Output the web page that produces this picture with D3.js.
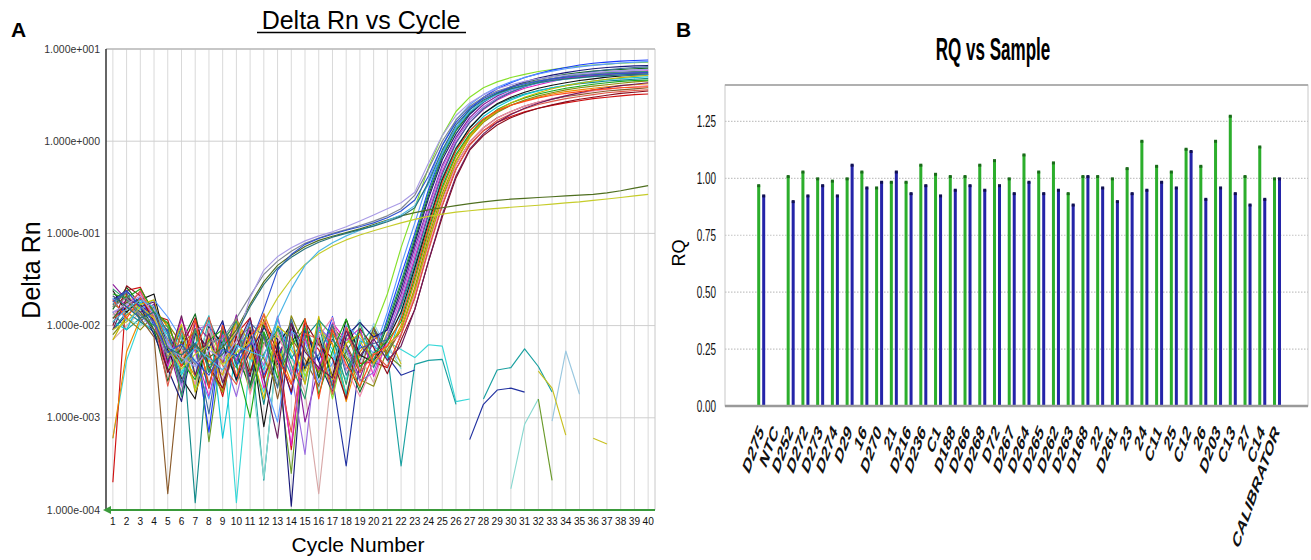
<!DOCTYPE html>
<html><head><meta charset="utf-8">
<script src="https://cdn.jsdelivr.net/npm/d3@7"></script>
<style>body{margin:0;background:#fff}svg{display:block;font-family:"Liberation Sans",Arial,sans-serif}</style>
</head><body>
<svg id="c" width="1311" height="560"></svg>
<script>
// ---------------- Panel A data ----------------
const cycles = [1,2,3,4,5,6,7,8,9,10,11,12,13,14,15,16,17,18,19,20,21,22,23,24,25,26,27,28,29,30,31,32,33,34,35,36,37,38,39,40];
const yTickValues = [10, 1, 0.1, 0.01, 0.001, 0.0001];
const yTickLabels = ["1.000e+001","1.000e+000","1.000e-001","1.000e-002","1.000e-003","1.000e-004"];

// amplification curves: baseline (cycles 1-19) and rise (cycles 20-40)
const ampColors = ["#86e02a","#1a3cff","#d01010","#8b1a9a","#138a8a","#0f6b1f","#f08a00","#e020c0","#10c8d8","#8a5a2a","#111111","#8a8a10","#1a1a7a","#f08cb0","#5a9aff","#8a0a1a","#9a6ae0","#1aa81a","#c8b800","#3a6a9a","#e05a4a","#2a9a6a","#6a1a5a","#ff4a1a"];
const ampBaseline = [
[.018,.022,.015,.012,.0032,.0078,.0021,.0095,.0041,.0062,.0019,.0085,.0034,.0112,.0028,.0069,.0016,.0074,.0045],
[.012,.016,.02,.01,.0088,.0024,.0065,.0007,.0105,.0037,.0072,.0029,.0058,.0018,.0094,.0041,.0125,.0033,.0062],
[.0002,.024,.026,.013,.0115,.0036,.0092,.0052,.0017,.0081,.0121,.0026,.0068,.00045,.0079,.0055,.0022,.0098,.0039],
[.028,.019,.014,.017,.0062,.0018,.0108,.0071,.0039,.0131,.0023,.0076,.0047,.0092,.0009,.0035,.0088,.0061,.0027],
[.009,.014,.011,.0085,.0042,.0097,.00012,.0059,.0082,.0025,.0066,.0014,.0098,.0044,.0074,.0111,.0021,.0053,.0086],
[.015,.026,.017,.009,.0025,.0066,.0134,.0031,.0087,.0049,.0022,.0102,.0038,.0064,.0119,.0027,.0071,.0043,.0019],
[.0006,.0052,.012,.016,.0095,.0051,.0028,.0074,.0019,.0112,.0043,.0135,.0058,.0024,.0037,.0086,.0064,.0015,.0052],
[.021,.017,.023,.011,.0036,.0118,.0052,.0017,.0079,.0042,.0096,.0021,.0046,.0005,.0072,.0032,.0107,.0069,.0094],
[.011,.009,.018,.014,.0078,.0029,.0061,.0128,.0006,.0058,.0084,.0033,.0116,.0047,.0024,.0091,.0055,.0018,.0068],
[.016,.021,.012,.0075,.00015,.0048,.0093,.0023,.0067,.0109,.0032,.0081,.0016,.0073,.0043,.0022,.0099,.0063,.0031],
[.024,.014,.019,.022,.0054,.0027,.0016,.0098,.0063,.0026,.0089,.0008,.0061,.0104,.0035,.0076,.0028,.0117,.0048],
[.008,.012,.009,.013,.0105,.0063,.0087,.0035,.0019,.0071,.0096,.0044,.0022,.0128,.0057,.0031,.0083,.0046,.0026],
[.019,.024,.016,.008,.0034,.0015,.0082,.0057,.0113,.0027,.0052,.0094,.0071,.00011,.0088,.0041,.0019,.0077,.0108],
[.013,.018,.022,.015,.0082,.0053,.0023,.0094,.0029,.0106,.0018,.0062,.0085,.0033,.0025,.0076,.0122,.0034,.0017],
[.02,.011,.015,.019,.0124,.0072,.0038,.0016,.0066,.0054,.0113,.0026,.0009,.0087,.0067,.0024,.0039,.0101,.0073],
[.01,.027,.021,.011,.0031,.0058,.0121,.0036,.0021,.0077,.0029,.0116,.0052,.0019,.0109,.0062,.0044,.0016,.0093],
[.014,.016,.013,.009,.0067,.0022,.0089,.0103,.0048,.0017,.0071,.0037,.0127,.0031,.0004,.0096,.0068,.0057,.0025],
[.022,.02,.025,.014,.0107,.0041,.0026,.0069,.0091,.0038,.001,.0085,.0027,.0061,.0094,.0018,.0053,.0118,.0036],
[.007,.013,.017,.019,.0045,.0103,.0019,.0042,.0029,.0114,.0063,.0016,.0099,.0074,.0023,.0126,.0026,.0064,.0082],
[.017,.023,.011,.016,.0083,.0024,.0061,.0011,.0097,.0039,.0107,.0076,.0021,.0118,.0036,.0048,.0104,.0029,.0057],
[.012,.015,.024,.012,.0022,.0089,.0053,.0124,.0037,.0023,.0064,.0132,.0034,.0007,.0082,.0071,.0018,.0096,.0031],
[.025,.019,.013,.01,.0099,.0017,.0091,.0032,.0067,.0112,.0021,.0049,.0093,.0038,.0016,.0115,.0078,.0023,.0105],
[.009,.02,.016,.018,.0039,.0128,.0029,.0083,.0024,.0059,.0121,.0027,.0006,.0106,.0052,.0035,.0027,.0088,.0047],
[.019,.012,.02,.013,.0071,.0036,.0116,.0021,.0101,.0028,.0078,.0109,.0044,.0023,.0119,.0016,.0091,.0038,.0022]
];
const ampRise = [
[.009,.022,.07,.19,.52,1.15,2.1,3.0,3.8,4.4,4.9,5.3,5.7,6.0,6.3,6.5,6.7,6.85,7.0,7.1,7.2],
[.004,.012,.035,.1,.3,.75,1.4,2.2,3.0,3.7,4.3,4.9,5.4,5.9,6.3,6.7,7.0,7.2,7.4,7.5,7.6],
[.004,.0035,.008,.02,.07,.2,.5,.92,1.3,1.6,1.85,2.08,2.28,2.45,2.6,2.75,2.9,3.0,3.1,3.2,3.25],
[.007,.009,.022,.07,.2,.55,1.1,1.8,2.5,3.1,3.6,4.0,4.3,4.6,4.85,5.0,5.15,5.3,5.4,5.45,5.5],
[.0035,.008,.016,.045,.14,.4,.85,1.4,2.0,2.5,2.9,3.25,3.55,3.8,4.0,4.2,4.35,4.5,4.6,4.7,4.8],
[.004,.01,.028,.085,.26,.68,1.3,2.0,2.7,3.3,3.8,4.3,4.7,5.0,5.3,5.55,5.75,5.9,6.0,6.1,6.2],
[.008,.005,.01,.03,.1,.3,.68,1.15,1.65,2.1,2.45,2.75,3.0,3.25,3.45,3.6,3.75,3.9,4.0,4.1,4.2],
[.0028,.007,.018,.055,.17,.47,.98,1.6,2.2,2.8,3.3,3.75,4.1,4.45,4.75,5.0,5.2,5.4,5.55,5.7,5.8],
[.006,.0045,.013,.038,.12,.35,.78,1.3,1.85,2.35,2.8,3.2,3.5,3.8,4.05,4.3,4.5,4.65,4.8,4.9,5.0],
[.0095,.005,.009,.024,.08,.24,.56,.98,1.4,1.8,2.1,2.4,2.65,2.85,3.05,3.2,3.35,3.5,3.6,3.7,3.8],
[.004,.007,.014,.042,.13,.38,.82,1.4,2.0,2.55,3.0,3.4,3.75,4.05,4.3,4.55,4.75,4.95,5.1,5.2,5.3],
[.0022,.0055,.009,.026,.09,.27,.62,1.1,1.6,2.05,2.45,2.8,3.1,3.35,3.6,3.8,3.95,4.1,4.25,4.4,4.5],
[.0075,.009,.025,.078,.24,.63,1.2,1.95,2.65,3.3,3.9,4.4,4.85,5.2,5.55,5.85,6.1,6.3,6.45,6.55,6.6],
[.004,.0062,.008,.022,.072,.22,.55,.98,1.4,1.78,2.1,2.4,2.65,2.9,3.1,3.3,3.5,3.65,3.8,3.9,4.0],
[.005,.014,.045,.13,.38,.9,1.7,2.5,3.2,3.85,4.4,4.9,5.35,5.75,6.1,6.4,6.65,6.85,7.05,7.2,7.3],
[.0058,.003,.007,.015,.05,.15,.4,.8,1.15,1.5,1.8,2.05,2.28,2.48,2.67,2.85,3.0,3.15,3.3,3.4,3.5],
[.0031,.008,.02,.062,.19,.52,1.05,1.7,2.35,2.95,3.45,3.9,4.3,4.65,4.95,5.2,5.45,5.65,5.8,5.9,6.0],
[.005,.0068,.011,.033,.11,.32,.72,1.2,1.7,2.2,2.6,2.95,3.25,3.5,3.75,3.95,4.15,4.3,4.45,4.55,4.6],
[.0039,.006,.009,.024,.08,.25,.6,1.1,1.65,2.15,2.6,3.0,3.35,3.7,4.0,4.25,4.5,4.7,4.9,5.05,5.2],
[.0064,.007,.017,.05,.16,.44,.95,1.6,2.25,2.85,3.4,3.9,4.35,4.75,5.1,5.4,5.7,5.95,6.15,6.3,6.4],
[.005,.0036,.008,.02,.065,.2,.5,.9,1.3,1.68,1.98,2.25,2.5,2.7,2.9,3.05,3.2,3.35,3.45,3.55,3.6],
[.0042,.011,.03,.092,.28,.7,1.35,2.05,2.7,3.25,3.7,4.1,4.45,4.75,5.0,5.2,5.35,5.5,5.6,5.65,5.7],
[.0072,.0042,.006,.015,.05,.16,.42,.82,1.2,1.6,1.95,2.28,2.58,2.86,3.1,3.35,3.6,3.8,4.0,4.15,4.3],
[.0048,.006,.012,.036,.12,.36,.8,1.3,1.75,2.15,2.45,2.7,2.95,3.15,3.3,3.45,3.6,3.7,3.8,3.85,3.9]
];

// curves rising early (cycles 1-40)
const earlyColors = ["#4f6f1f","#c6cc2a","#7f8592","#a99be6","#3050d0","#4bb6e6","#27707a"];
const earlyValues = [
[.012,.018,.014,.009,.0052,.0041,.0063,.0045,.0058,.009,.017,.03,.045,.058,.072,.084,.093,.102,.112,.125,.14,.155,.168,.18,.19,.2,.21,.22,.228,.235,.24,.245,.25,.255,.26,.265,.275,.29,.31,.33],
[.009,.011,.016,.012,.0058,.0034,.0049,.0062,.0038,.0051,.0067,.011,.02,.032,.046,.06,.073,.085,.096,.107,.118,.13,.142,.153,.162,.17,.176,.182,.187,.192,.197,.202,.208,.214,.22,.228,.236,.245,.255,.265],
[.016,.02,.013,.011,.0046,.0057,.0038,.0066,.0072,.012,.021,.036,.05,.064,.078,.089,.1,.11,.122,.136,.155,.185,.26,.5,1.0,1.7,2.4,3.0,3.5,3.9,4.25,4.55,4.8,5.0,5.15,5.3,5.4,5.5,5.55,5.6],
[.014,.017,.021,.013,.0062,.0045,.0036,.0054,.0043,.0068,.02,.04,.056,.07,.083,.094,.104,.118,.136,.158,.185,.215,.28,.58,1.15,1.9,2.6,3.2,3.7,4.1,4.45,4.75,5.0,5.2,5.4,5.55,5.7,5.8,5.9,6.0],
[.018,.024,.016,.011,.0051,.0063,.0041,.0029,.0055,.0047,.0062,.015,.04,.059,.076,.088,.098,.108,.118,.13,.148,.175,.23,.42,.9,1.6,2.3,2.9,3.4,3.85,4.2,4.5,4.75,4.95,5.1,5.25,5.35,5.45,5.5,5.55],
[.011,.015,.019,.016,.0068,.0039,.0057,.0044,.0033,.0061,.0052,.0046,.012,.025,.045,.064,.079,.094,.108,.122,.138,.158,.2,.34,.75,1.4,2.1,2.7,3.2,3.6,3.95,4.25,4.5,4.7,4.85,5.0,5.1,5.2,5.25,5.3],
[.021,.016,.012,.014,.0057,.0048,.0064,.0037,.0049,.0082,.016,.028,.042,.055,.068,.08,.091,.1,.11,.12,.134,.152,.19,.36,.8,1.5,2.2,2.8,3.3,3.7,4.0,4.3,4.55,4.75,4.9,5.05,5.15,5.25,5.3,5.35]
];

// non-amplifying (noise only) curves, null = not plotted
const noiseColors = ["#38d8d8","#1aa0a0","#2030a0","#88d8d0","#6a9a2a","#9ac8e0","#c8c020","#d8a8a8"];
const noiseValues = [
[.0006,.0042,.011,.009,.0082,.0031,.0065,.0022,.0085,.00012,.0046,.0019,.0092,.0061,.0024,.0108,.0047,.0026,.0089,.0038,.0067,.0055,.0045,.0062,.006,.0015,.0016,null,null,null,null,null,null,null,null,null,null,null,null,null],
[.014,.009,.012,.016,.0041,.0092,.0028,.0117,.0053,.0035,.0076,.00021,.0064,.0029,.0101,.0043,.0083,.0017,.0062,.0097,.005,.0003,.0038,.0042,.0043,.0014,null,.0016,.0033,.0035,.0056,.0036,.0019,null,null,null,null,null,null,null],
[.009,.013,.017,.012,.0089,.0036,.0063,.0021,.0102,.0047,.0028,.0085,.0041,.0113,.0033,.0068,.0027,.0003,.0042,.0091,.0046,.0029,.0033,null,null,null,.00058,.0014,.002,.0021,.0019,null,null,null,null,null,null,null,null,null],
[.008,.012,.01,.014,.0035,.0087,.0041,.0099,.0023,.0074,.0042,.00022,.0058,.0105,.0026,.0081,.0035,.0064,.0116,.0039,.0063,.0034,null,null,null,null,null,null,null,.00017,.00085,.0016,null,null,null,null,null,null,null,null],
[.017,.014,.02,.011,.0058,.0024,.0092,.00055,.0063,.0098,.0021,.0066,.0034,.00025,.0075,.0028,.0092,.0053,.0021,.0084,.0048,.0036,null,null,null,null,null,null,null,null,null,.0016,.00021,null,null,null,null,null,null,null],
[.013,.018,.015,.01,.0036,.0078,.0019,.0091,.0054,.0027,.0113,.0047,.0025,.0082,.0058,.0021,.0095,.0049,.0034,.0106,.0055,.0041,null,null,null,null,null,null,null,null,null,null,.00092,.0053,.0018,null,null,null,null,null],
[.011,.016,.013,.015,.0098,.0047,.0023,.0082,.0037,.0121,.0049,.0026,.0078,.0054,.0032,.0097,.0063,.0018,.0069,.0036,.0085,.0038,null,null,null,null,null,null,null,null,null,.0032,.0021,.00065,null,.0006,.00052,null,null,null],
[.007,.01,.014,.012,.0027,.0069,.0101,.0043,.0026,.0089,.0062,.0031,.0073,.0045,.0019,.00015,.0036,.0082,.0047,.0024,.0074,null,null,null,null,null,null,null,null,null,null,null,null,null,null,null,null,null,null,null]
];

// ---------------- Panel B data ----------------
const samples = ["D275","NTC","D252","D272","D273","D274","D29","16","D270","21","D216","D236","C1","D188","D266","D268","D72","D267","D264","D265","D262","D263","D168","22","D261","23","24","C11","25","C12","26","D203","C13","27","C14","CALIBRATOR"];
const rqGreen = [.97,null,1.01,1.03,1.0,.99,1.0,1.03,.96,.985,.985,1.06,1.02,1.01,1.01,1.06,1.08,1.0,1.105,1.03,1.07,.935,1.01,1.01,1.0,1.045,1.165,1.055,1.03,1.13,1.055,1.165,1.275,1.01,1.14,1.0];
const rqBlue  = [.925,null,.9,.925,.97,.925,1.06,.96,.985,1.03,.935,.97,.925,.95,.97,.95,.97,.935,.985,.935,.95,.885,1.01,.96,.9,.935,.95,.985,.96,1.12,.91,.96,.935,.885,.91,1.0];
const rqTicks = [0,0.25,0.5,0.75,1.0,1.25];

// ---------------- drawing ----------------
const svg = d3.select("#c");

// ===== Panel A =====
const A = {l:106, r:655, t:49, b:510};
const x = d3.scaleLinear().domain([0.5, 40.5]).range([A.l, A.r]);
const y = d3.scaleLog().domain([1e-4, 10]).range([A.b, A.t]);

svg.append("text").attr("x",11).attr("y",37).attr("font-size",21).attr("font-weight","bold").text("A");
svg.append("text").attr("x",361).attr("y",29).attr("text-anchor","middle").attr("font-size",25).text("Delta Rn vs Cycle");
svg.append("line").attr("x1",257).attr("x2",466).attr("y1",32.5).attr("y2",32.5).attr("stroke","#000").attr("stroke-width",1.5);

const gA = svg.append("g");
gA.selectAll("line.vg").data(cycles).join("line").attr("class","vg")
  .attr("x1",d=>x(d)).attr("x2",d=>x(d)).attr("y1",A.t).attr("y2",A.b)
  .attr("stroke","#d9d9d9").attr("stroke-width",1);
gA.selectAll("line.hg").data(yTickValues).join("line").attr("class","hg")
  .attr("x1",A.l).attr("x2",A.r).attr("y1",d=>y(d)).attr("y2",d=>y(d))
  .attr("stroke","#cfcfcf").attr("stroke-width",1);
gA.append("line").attr("x1",A.r).attr("x2",A.r).attr("y1",A.t).attr("y2",A.b).attr("stroke","#c8c8c8");

svg.append("defs").append("clipPath").attr("id","clipA").append("rect")
  .attr("x",A.l).attr("y",A.t-1).attr("width",A.r-A.l).attr("height",A.b-A.t+1);

const line = d3.line().defined(d=>d!=null && d>0).x((d,i)=>x(cycles[i])).y(d=>y(d));
const lines = gA.append("g").attr("clip-path","url(#clipA)").attr("fill","none").attr("stroke-width",1.15).attr("stroke-linejoin","round");
lines.selectAll("path.n").data(noiseValues).join("path").attr("class","n")
  .attr("d",line).attr("stroke",(d,i)=>noiseColors[i]);
const ampValues = ampBaseline.map((b,i)=>b.concat(ampRise[i]));
lines.selectAll("path.a").data(ampValues).join("path").attr("class","a")
  .attr("d",line).attr("stroke",(d,i)=>ampColors[i]);
lines.selectAll("path.e").data(earlyValues).join("path").attr("class","e")
  .attr("d",line).attr("stroke",(d,i)=>earlyColors[i]);

gA.append("line").attr("x1",A.l).attr("x2",A.r).attr("y1",A.t).attr("y2",A.t).attr("stroke","#bdbdbd").attr("stroke-width",1.5);
gA.append("line").attr("x1",A.l).attr("x2",A.l).attr("y1",A.t).attr("y2",A.b).attr("stroke","#333").attr("stroke-width",1.5);
gA.append("line").attr("x1",A.l).attr("x2",A.r).attr("y1",A.b).attr("y2",A.b).attr("stroke","#3a9a3a").attr("stroke-width",2);
gA.append("path").attr("d",`M${A.l-3},${A.b}L${A.l+5},${A.b-4}L${A.l+5},${A.b+4}Z`).attr("fill","#3a9a3a");

gA.selectAll("text.yt").data(yTickValues).join("text").attr("class","yt")
  .attr("x",100).attr("y",d=>y(d)).attr("dy","0.35em").attr("text-anchor","end")
  .attr("font-size",10.5).attr("fill","#333").text((d,i)=>yTickLabels[i]);
gA.selectAll("text.xt").data(cycles).join("text").attr("class","xt")
  .attr("text-anchor","middle").attr("font-size",11.5).attr("fill","#111")
  .attr("transform",d=>`translate(${x(d)},525) scale(0.88,1)`).text(d=>d);
svg.append("text").attr("x",358).attr("y",552).attr("text-anchor","middle").attr("font-size",21).text("Cycle Number");
svg.append("text").attr("transform","translate(40,270) rotate(-90)").attr("text-anchor","middle").attr("font-size",25).text("Delta Rn");

// ===== Panel B =====
const B = {l:725, r:1308, t:85, b:406};
const xb = d3.scalePoint().domain(samples).range([761.2, 1277]);
const yb = d3.scaleLinear().domain([0, 1.41]).range([B.b, B.t]);

svg.append("text").attr("x",676).attr("y",37).attr("font-size",21).attr("font-weight","bold").text("B");
svg.append("text").attr("transform","translate(993,60) scale(0.55,1)").attr("text-anchor","middle")
  .attr("font-size",31).attr("font-weight","bold").text("RQ vs Sample");

const gB = svg.append("g");
gB.append("rect").attr("x",B.l).attr("y",B.t).attr("width",B.r-B.l).attr("height",B.b-B.t)
  .attr("fill","#fff").attr("stroke","#c8c8c8").attr("stroke-width",1);
gB.append("line").attr("x1",B.l).attr("x2",B.r).attr("y1",B.t).attr("y2",B.t).attr("stroke","#b0b0b0").attr("stroke-width",2);
gB.selectAll("line.g").data(rqTicks.slice(1)).join("line").attr("class","g")
  .attr("x1",B.l).attr("x2",B.r).attr("y1",d=>yb(d)).attr("y2",d=>yb(d))
  .attr("stroke","#c4c4c4").attr("stroke-width",1.2).attr("stroke-dasharray","1.5,1.5");

const bw = 3;
const gIdx = samples.map((s,i)=>i).filter(i=>rqGreen[i]!=null);
gB.selectAll("rect.gr").data(gIdx).join("rect").attr("class","gr")
  .attr("x",i=>xb(samples[i])-2.5-bw/2).attr("width",bw)
  .attr("y",i=>yb(rqGreen[i])).attr("height",i=>yb(0)-yb(rqGreen[i])).attr("fill","#2cae2c");
gB.selectAll("rect.gc").data(gIdx).join("rect").attr("class","gc")
  .attr("x",i=>xb(samples[i])-2.5-bw/2).attr("width",bw)
  .attr("y",i=>yb(rqGreen[i])-1).attr("height",3).attr("fill","#1a6a1a");
const bIdx = samples.map((s,i)=>i).filter(i=>rqBlue[i]!=null);
gB.selectAll("rect.bl").data(bIdx).join("rect").attr("class","bl")
  .attr("x",i=>xb(samples[i])+2.5-bw/2).attr("width",bw)
  .attr("y",i=>yb(rqBlue[i])).attr("height",i=>yb(0)-yb(rqBlue[i])).attr("fill","#2424a8");
gB.selectAll("rect.bc").data(bIdx).join("rect").attr("class","bc")
  .attr("x",i=>xb(samples[i])+2.5-bw/2).attr("width",bw)
  .attr("y",i=>yb(rqBlue[i])-1).attr("height",3).attr("fill","#101050");

gB.append("line").attr("x1",B.l).attr("x2",B.r).attr("y1",B.b).attr("y2",B.b).attr("stroke","#9a9a9a").attr("stroke-width",2.5);

gB.selectAll("text.yt").data(rqTicks).join("text").attr("class","yt")
  .attr("text-anchor","end").attr("font-size",16).attr("fill","#111")
  .attr("transform",d=>`translate(716,${yb(d)+5.5}) scale(0.62,1)`).text(d=>d3.format(".2f")(d));
svg.append("text").attr("transform","translate(685,253) rotate(-90)").attr("text-anchor","middle")
  .attr("font-size",18).text("RQ");

gB.selectAll("text.xl").data(samples).join("text").attr("class","xl")
  .attr("text-anchor","end").attr("font-size",11.5).attr("font-weight","bold").attr("fill","#111")
  .attr("transform",d=>`translate(${xb(d)+3},432) scale(1,1.9) rotate(-56)`).text(d=>d);
</script>
</body></html>
